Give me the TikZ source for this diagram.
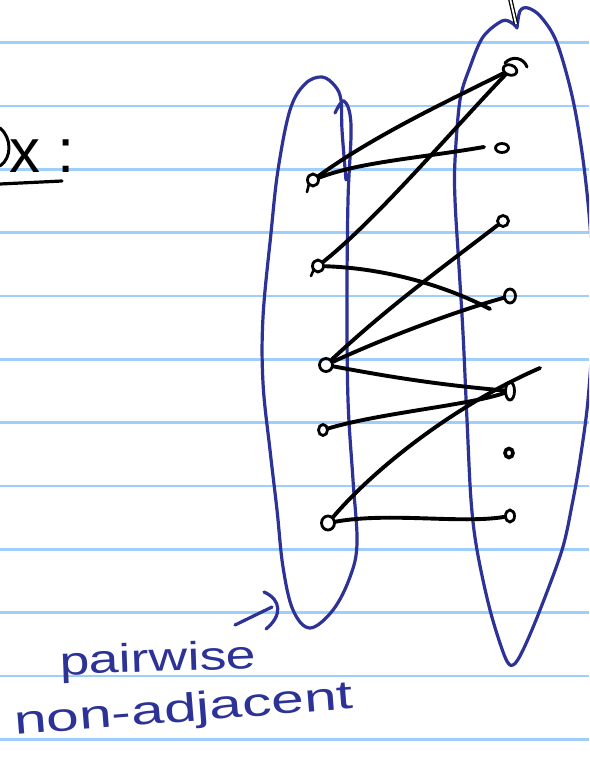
\documentclass[tikz,border=0pt]{standalone}
\usepackage{fontspec}
\usepackage{graphicx}
\usetikzlibrary{shapes.geometric}
\newfontfamily\handfont{Liberation Sans}
\definecolor{rulecol}{RGB}{160,206,250}
\definecolor{inkblue}{RGB}{44,50,150}
\begin{document}
\begin{tikzpicture}[x=1pt,y=-1pt,
  ruleline/.style={draw=rulecol,line width=2.4pt},
  outline/.style={draw=inkblue,line width=3.2pt,line cap=round,line join=round},
  edgeline/.style={draw=black,line width=3.9pt,line cap=round,line join=round},
  vtx/.style={draw=black,ellipse,line width=2.8pt,inner sep=0pt,minimum width=11pt,minimum height=12pt},
  handtext/.style={inner sep=0pt,font=\handfont\fontsize{40}{40}\selectfont},
]
\useasboundingbox (0,0) rectangle (589,760);
\clip (0,0) rectangle (589,760);
\fill[white] (0,0) rectangle (589,760);
% ruled paper
\foreach \k in {0,...,11}{
  \pgfmathsetmacro{\yy}{42.7+63.33*\k}
  \draw[ruleline] (0,\yy) -- (589,\yy);
}
% top-left heading
\node[inner sep=0pt,anchor=base west,font=\handfont\fontsize{62}{62}\selectfont] (ex) at (9,172) {x :};
\coordinate (pgA) at (0,128);
\coordinate (pgB) at (0,166);
\draw[edgeline,line width=3pt] (pgA) .. controls (12,138) and (12,158) .. (pgB);
\coordinate (ulA) at (0,184);
\coordinate (ulB) at (62,181);
\draw[edgeline,line width=3.2pt] (ulA) -- (ulB);

% left set outline
\draw[outline] plot[smooth,tension=0.6] coordinates {
 (335,113) (344,101) (351,125) (348,200) (347,300) (348,400) (353,480) (357,543) (350,577) (333,610) (310,628)
 (293,610) (283,567) (277,510) (270,450) (263,383) (263,317) (271,233) (278,170) (290,110) (305,84) (322,77) (335,86) (341,100) (342,130) (346,180)};
% right set outline
\draw[outline] plot[smooth,tension=0.55] coordinates {
 (517,28) (520,11) (528,8) (541,17) (557,43) (573,100) (584,167) (591,240) (593,320) (588,400) (580,460) (572,505) (562,550) (540,610) (523,650) (513,665) (505,657) (490,610) (477,550) (471,500) (467,420) (463,333) (459,267) (455,200) (455,160) (460,100) (470,67) (483,37) (502,21) (512,23) (517,28)};
% pen stroke at top
\coordinate (penA) at (510,-2);
\coordinate (penB) at (516,24);
\draw[draw=black,line width=1.3pt,double=white,double distance=1.8pt] (penA) -- (penB);

% vertices, left
\node[vtx] (L1) at (313,180) {};
\node[vtx] (L2) at (318,266) {};
\node[vtx,minimum width=13pt,minimum height=13pt] (L3) at (326,365) {};
\node[vtx,minimum width=9pt,minimum height=11pt] (L4) at (323,430) {};
\node[vtx,minimum width=13pt,minimum height=14pt] (L5) at (328,523) {};
% vertices, right
\node[vtx,minimum width=14pt,minimum height=10pt,rotate=-20] (R1) at (510,70) {};
\node[vtx,minimum width=13pt,minimum height=9pt] (R2) at (502,148) {};
\node[vtx,minimum width=11pt,minimum height=11pt] (R3) at (503,221) {};
\node[vtx,minimum width=11pt,minimum height=14pt] (R4) at (510,296) {};
\node[vtx,minimum width=9pt,minimum height=18pt] (R5) at (510,391) {};
\node[vtx,line width=3.6pt,minimum width=8pt,minimum height=9pt] (R6) at (509,453) {};
\node[vtx,minimum width=9pt,minimum height=12pt] (R7) at (510,516) {};
% small pen flourishes on vertices
\coordinate (c1a) at (505,63);
\coordinate (c1b) at (527,67);
\draw[edgeline,line width=3pt] (c1a) .. controls (512,55) and (524,58) .. (c1b);
\coordinate (t1a) at (309,184);
\coordinate (t1b) at (307,192);
\draw[edgeline,line width=2.6pt] (t1a) -- (t1b);
\coordinate (t2a) at (314,269);
\coordinate (t2b) at (311,276);
\draw[edgeline,line width=2.6pt] (t2a) -- (t2b);

% edges
\coordinate (e3) at (484,147);
\coordinate (e4) at (490,309);
\coordinate (e9) at (540,368);
\draw[edgeline] (L1) .. controls (375,135) and (450,100) .. (R1);
\draw[edgeline] (L1) .. controls (360,162) and (420,158) .. (e3);
\draw[edgeline] (L2) .. controls (378,218) and (455,127) .. (R1);
\draw[edgeline] (L2) .. controls (380,268) and (440,283) .. (e4);
\draw[edgeline] (L3) .. controls (390,305) and (450,262) .. (R3);
\draw[edgeline] (L3) .. controls (380,340) and (450,313) .. (R4);
\draw[edgeline] (L3) .. controls (380,375) and (430,384) .. (R5);
\draw[edgeline] (L4) .. controls (380,413) and (470,405) .. (R5);
\draw[edgeline] (L5) .. controls (375,468) and (455,405) .. (e9);
\draw[edgeline] (L5) .. controls (390,512) and (460,524) .. (R7);

% annotation
\node[handtext,text=inkblue,anchor=base west,rotate=2] (pw) at (60,675) {\scalebox{1.34}[1]{pairwise}};
\node[handtext,text=inkblue,anchor=base west,rotate=4.5] (na) at (15,735) {\scalebox{1.47}[1]{non-adjacent}};
\coordinate (arA) at (235,625);
\coordinate (arB) at (272,607);
\draw[outline] (arA) -- (arB);
\coordinate (hdA) at (264,592);
\coordinate (hdB) at (266,629);
\draw[outline] (hdA) .. controls (282,600) and (282,616) .. (hdB);
\end{tikzpicture}
\end{document}
